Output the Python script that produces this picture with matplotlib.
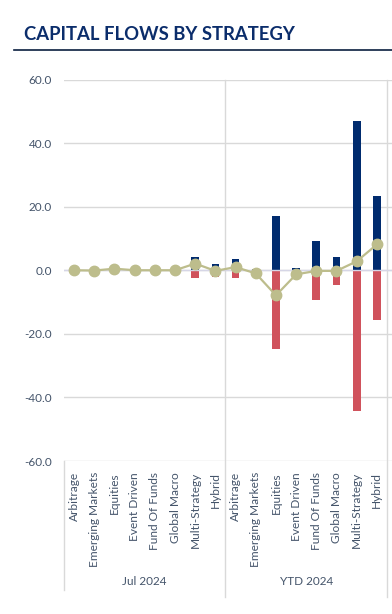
import matplotlib.pyplot as plt
import matplotlib.transforms as mtransforms
import numpy as np

plt.rcParams['font.family'] = ['Lato', 'DejaVu Sans']

# data
strategies = ['Arbitrage', 'Emerging Markets', 'Equities', 'Event Driven',
              'Fund Of Funds', 'Global Macro', 'Multi-Strategy', 'Hybrid']
periods = ['Jul 2024', 'YTD 2024']

inflows_jul = [0.3, 0.2, 1.5, 0.2, 0.2, 0.3, 4.3, 1.9]
outflows_jul = [-0.3, -0.3, -1.2, -0.2, -0.2, -0.3, -2.3, -2.2]
net_jul = [0.0, -0.1, 0.5, 0.0, 0.0, 0.0, 2.1, -0.2]

inflows_ytd = [3.4, 0.3, 17.0, 0.6, 9.1, 4.3, 46.9, 23.5]
outflows_ytd = [-2.4, -1.3, -24.7, -1.9, -9.5, -4.6, -44.2, -15.6]
net_ytd = [1.0, -1.0, -7.9, -1.3, -0.2, -0.2, 2.8, 8.1]

navy = '#002B6E'
red = '#D0525C'
khaki = '#BDBD8C'
txt = '#44546A'
grid = '#D9D9D9'

inflows = inflows_jul + inflows_ytd
outflows = outflows_jul + outflows_ytd
net = net_jul + net_ytd
labels = strategies + strategies
x = np.arange(len(labels))

fig = plt.figure(figsize=(3.92, 6.14), dpi=100)
ax = fig.add_axes([64 / 392, 1 - 461 / 614, 328 / 392, (461 - 79.5) / 614])

ax.bar(x, inflows, width=0.38, color=navy, zorder=2)
ax.bar(x, outflows, width=0.38, color=red, zorder=2)
ax.axhline(0, color='#D6D6E6', lw=1, zorder=2.5)
ax.plot(x, net, color=khaki, lw=1.6, marker='o', markersize=7.5, zorder=3)

ax.set_ylim(-60, 60)
ax.set_yticks(np.arange(-60, 61, 20))
ax.set_yticklabels(['%.1f' % v for v in np.arange(-60, 61, 20)], color=txt, fontsize=8.5)
ax.set_xlim(-0.5, 15.75)
ax.set_xticks(x)
ax.set_xticklabels(labels, rotation=90, color=txt, fontsize=8.6)
ax.tick_params(length=0)
ax.tick_params(axis='x', pad=8)
ax.tick_params(axis='y', pad=8.5)
ax.yaxis.grid(True, color=grid, lw=1, zorder=0)
ax.set_axisbelow(True)
for s in ax.spines.values():
    s.set_visible(False)

# group separators and labels
trans = mtransforms.blended_transform_factory(ax.transData, ax.transAxes)
ax.plot([-0.5, -0.5], [0, -0.338], color=grid, lw=1, transform=trans, clip_on=False)
for b in [7.5, 15.5]:
    ax.plot([b, b], [1, -0.3565], color=grid, lw=1, transform=trans, clip_on=False)
for i, p in enumerate(periods):
    ax.text(3.5 + 8 * i, -0.317, p, transform=trans, ha='center', va='center',
            color=txt, fontsize=8.5)

fig.text(24 / 392, 1 - 34 / 614, 'CAPITAL FLOWS BY STRATEGY', fontsize=13.3,
         fontweight='bold', color='#0B2D6B', ha='left', va='center')
fig.add_artist(plt.Line2D([14 / 392, 1], [1 - 50 / 614] * 2, color='#0B1F3F', lw=1.2))

fig.savefig('out.png', dpi=100)
